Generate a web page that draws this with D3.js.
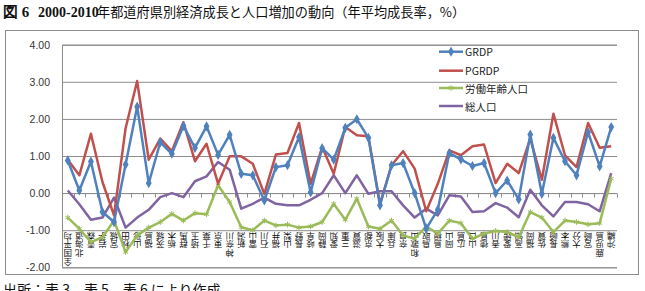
<!DOCTYPE html>
<html><head><meta charset="utf-8">
<script src="https://cdn.jsdelivr.net/npm/d3@7"></script>
<style>
html,body{margin:0;padding:0;background:#fff;}
svg{display:block;}
</style></head>
<body>
<script>
const categories = ["全国平均","北海道","青森","岩手","宮城","秋田","山形","福島","茨城","栃木","群馬","埼玉","千葉","東京","神奈川","新潟","富山","石川","福井","山梨","長野","岐阜","静岡","愛知","三重","滋賀","京都","大阪","兵庫","奈良","和歌山","鳥取","島根","岡山","広島","山口","徳島","香川","愛媛","高知","福岡","佐賀","長崎","熊本","大分","宮崎","鹿児島","沖縄"];
const grdp = [0.88,0.07,0.85,-0.51,-0.78,0.77,2.33,0.27,1.37,1.06,1.81,1.22,1.80,1.03,1.57,0.52,0.48,-0.20,0.70,0.75,1.51,0.02,1.21,0.90,1.76,1.99,1.49,-0.33,0.75,0.81,0.00,-0.96,-0.45,1.08,0.91,0.73,0.81,0.00,0.34,-0.17,1.58,-0.02,1.49,0.86,0.48,1.64,0.72,1.78];
const pgrdp = [0.90,0.48,1.60,0.30,-0.60,1.75,3.02,0.90,1.47,1.13,1.91,0.86,1.33,0.25,0.99,0.99,0.79,-0.02,1.04,1.08,1.89,0.25,1.24,0.52,1.78,1.56,1.53,-0.29,0.75,1.13,0.66,-0.49,0.25,1.15,1.02,1.26,1.31,0.27,0.79,0.54,1.47,0.36,2.14,1.02,0.70,1.89,1.22,1.26];
const workingAge = [-0.66,-0.96,-1.32,-1.19,-0.74,-1.59,-1.14,-0.93,-0.78,-0.56,-0.74,-0.54,-0.57,0.21,-0.24,-0.92,-1.00,-0.74,-0.87,-0.85,-0.93,-0.90,-0.78,-0.29,-0.72,-0.15,-0.90,-0.96,-0.74,-1.14,-1.23,-0.90,-1.09,-0.74,-0.81,-1.23,-1.09,-1.02,-1.05,-1.19,-0.51,-0.66,-1.05,-0.74,-0.78,-0.84,-0.81,0.39];
const totalPop = [0.07,-0.30,-0.72,-0.66,-0.12,-0.93,-0.66,-0.45,-0.11,0.00,-0.11,0.32,0.45,0.84,0.63,-0.42,-0.29,-0.12,-0.29,-0.33,-0.33,-0.18,0.00,0.48,0.00,0.48,-0.02,0.05,0.05,-0.33,-0.66,-0.42,-0.60,-0.06,-0.09,-0.51,-0.49,-0.27,-0.39,-0.65,0.09,-0.33,-0.63,-0.24,-0.24,-0.30,-0.49,0.54];
const yTicks = [-2,-1,0,1,2,3,4];
const seriesNames = ["GRDP","PGRDP","労働年齢人口","総人口"];
const seriesColors = ["#4F81BD","#C0504D","#9BBB59","#8064A2"];
const seriesMarkers = ["diamond","none","star","none"];
const footerText = "出所：表 3、表 5、表 6 により作成";

(function(){
const W = 645, H = 291;
const svg = d3.select("body").append("svg").attr("width", W).attr("height", H);
svg.append("rect").attr("width", W).attr("height", H).attr("fill", "#fff");

// Title
const title = svg.append("text").attr("x", 3).attr("y", 17)
  .attr("font-size", 13.5).attr("fill", "#111");
title.append("tspan").attr("font-family", "'Liberation Serif', serif").attr("font-weight", "bold").attr("font-size", 15).text("図 6");
title.append("tspan").attr("x", 38).attr("font-family", "'Liberation Serif', serif").attr("font-weight", "bold").attr("font-size", 14).text("2000-2010");
title.append("tspan").attr("x", 97).attr("font-family", "'Noto Sans CJK JP', sans-serif").attr("font-size", 13.2).text("年都道府県別経済成長と人口増加の動向（年平均成長率，%）");

// Chart frame
svg.append("rect").attr("x", 5.5).attr("y", 30.5).attr("width", 633).attr("height", 244)
  .attr("fill", "#fff").attr("stroke", "#8c8c8c").attr("stroke-width", 1);

const pLeft = 62, pRight = 617, pTop = 44.7, pBottom = 267.3;
const x = d3.scaleBand().domain(categories).range([pLeft, pRight]);
const y = d3.scaleLinear().domain([-2, 4]).range([pBottom, pTop]);
const cx = c => x(c) + x.bandwidth() / 2;

// Y axis with gridlines
const yAxis = d3.axisLeft(y).tickValues(yTicks).tickSize(-(pRight - pLeft)).tickPadding(12)
  .tickFormat(d => d.toFixed(2));
const gy = svg.append("g").attr("transform", `translate(${pLeft},0)`).call(yAxis);
gy.select(".domain").attr("stroke", "#8c8c8c");
gy.selectAll(".tick line").attr("stroke", "#8c8c8c").attr("stroke-width", 1);
gy.selectAll(".tick text").attr("font-family", "'Liberation Sans', Arial, sans-serif")
  .attr("font-size", 10.5).attr("fill", "#333");

// Category axis at zero with boundary ticks
const zeroY = Math.round(y(0)) + 0.5;
svg.append("line").attr("x1", pLeft).attr("x2", pRight).attr("y1", zeroY).attr("y2", zeroY)
  .attr("stroke", "#8c8c8c");
const bounds = categories.map(c => x(c)).concat([pRight]);
svg.append("g").selectAll("line").data(bounds).join("line")
  .attr("x1", d => Math.round(d) + 0.5).attr("x2", d => Math.round(d) + 0.5)
  .attr("y1", zeroY).attr("y2", zeroY + 4).attr("stroke", "#8c8c8c");

// Category labels: stacked chars, rotated 180
const labTop = 232.5, charH = 8.6;
const lg = svg.append("g").attr("font-family", "'Noto Sans CJK JP', sans-serif")
  .attr("font-size", 8.5).attr("fill", "#111");
categories.forEach(c => {
  const chars = Array.from(c);
  const n = chars.length;
  for (let k = 0; k < n; k++) {
    const ch = chars[n - 1 - k];
    const yy = labTop + charH * k + charH / 2;
    lg.append("text").attr("x", cx(c)).attr("y", yy)
      .attr("text-anchor", "middle").attr("dominant-baseline", "central")
      .attr("transform", `rotate(180,${cx(c)},${yy})`).text(ch);
  }
});

// Series
const allSeries = [grdp, pgrdp, workingAge, totalPop];
const line = d3.line().x((d, i) => cx(categories[i])).y(d => y(d));
const drawOrder = [3, 2, 1, 0];
drawOrder.forEach(si => {
  const vals = allSeries[si];
  svg.append("path").datum(vals).attr("d", line).attr("fill", "none")
    .attr("stroke", seriesColors[si]).attr("stroke-width", 2.5).attr("stroke-linejoin", "round");
  if (seriesMarkers[si] === "diamond") {
    svg.append("g").selectAll("path").data(vals).join("path")
      .attr("d", d3.symbol(d3.symbolDiamond, 30))
      .attr("transform", (d, i) => `translate(${cx(categories[i])},${y(d)})`)
      .attr("fill", seriesColors[si]);
  } else if (seriesMarkers[si] === "star") {
    svg.append("g").selectAll("path").data(vals).join("path")
      .attr("d", d3.symbol(d3.symbolAsterisk, 22))
      .attr("transform", (d, i) => `translate(${cx(categories[i])},${y(d)})`)
      .attr("fill", "none").attr("stroke", seriesColors[si]).attr("stroke-width", 1);
  }
});

// Legend
const legY = [51.7, 70.7, 88, 106];
const leg = svg.append("g");
seriesNames.forEach((nm, i) => {
  leg.append("line").attr("x1", 439).attr("x2", 463).attr("y1", legY[i]).attr("y2", legY[i])
    .attr("stroke", seriesColors[i]).attr("stroke-width", 2.5);
  if (seriesMarkers[i] === "diamond") {
    leg.append("path").attr("d", d3.symbol(d3.symbolDiamond, 30))
      .attr("transform", `translate(451,${legY[i]})`).attr("fill", seriesColors[i]);
  } else if (seriesMarkers[i] === "star") {
    leg.append("path").attr("d", d3.symbol(d3.symbolAsterisk, 22))
      .attr("transform", `translate(451,${legY[i]})`).attr("fill", "none")
      .attr("stroke", seriesColors[i]).attr("stroke-width", 1);
  }
  leg.append("text").attr("x", 465).attr("y", legY[i]).attr("dominant-baseline", "central")
    .attr("font-family", "'Noto Sans CJK JP', sans-serif").attr("font-size", 10.5)
    .attr("fill", "#222").text(nm);
});

// Footer
svg.append("text").attr("x", 3).attr("y", 295)
  .attr("font-family", "'Noto Sans CJK JP', sans-serif").attr("font-size", 14)
  .attr("fill", "#111").text(footerText);
})();
</script>
</body></html>
